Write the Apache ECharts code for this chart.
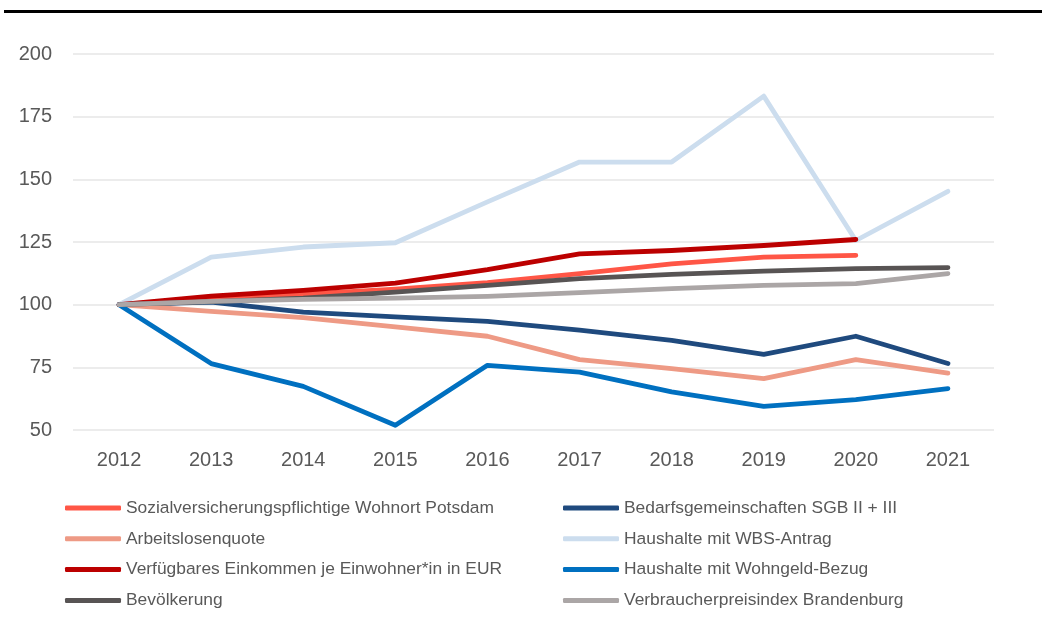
<!DOCTYPE html>
<html>
<head>
<meta charset="utf-8">
<script src="https://cdn.jsdelivr.net/npm/echarts@6/dist/echarts.min.js"></script>
<style>
  html, body { margin: 0; padding: 0; background: #fff; }
  #main { width: 1042px; height: 626px; }
</style>
</head>
<body>
<div id="main"></div>
<script>
var years = ['2012', '2013', '2014', '2015', '2016', '2017', '2018', '2019', '2020', '2021'];

var sozial      = [100, 102.2, 104.2, 106.2, 108.8, 112.4, 116.3, 119.0, 119.7, null];
var bedarf      = [100, 101.0, 97.0, 95.1, 93.3, 89.8, 85.8, 80.2, 87.4, 76.5];
var arbeitslos  = [100, 97.3, 94.8, 91.1, 87.4, 78.1, 74.5, 70.5, 78.1, 72.7];
var wbs         = [100, 119.0, 123.0, 124.7, 141.0, 156.9, 156.9, 183.2, 125.6, 145.2];
var einkommen   = [100, 103.4, 105.7, 108.6, 114.0, 120.3, 121.6, 123.6, 126.0, null];
var wohngeld    = [100, 76.5, 67.4, 51.9, 75.8, 73.1, 65.2, 59.4, 62.1, 66.5];
var bevoelkerung = [100, 101.2, 102.6, 105.0, 107.7, 110.4, 112.1, 113.4, 114.4, 114.8];
var vpi         = [100, 101.3, 102.1, 102.6, 103.3, 104.8, 106.4, 107.7, 108.4, 112.4];

var names = [
    'Sozialversicherungspflichtige Wohnort Potsdam',
    'Bedarfsgemeinschaften SGB II + III',
    'Arbeitslosenquote',
    'Haushalte mit WBS-Antrag',
    'Verfügbares Einkommen je Einwohner*in in EUR',
    'Haushalte mit Wohngeld-Bezug',
    'Bevölkerung',
    'Verbraucherpreisindex Brandenburg'
];
var values = [sozial, bedarf, arbeitslos, wbs, einkommen, wohngeld, bevoelkerung, vpi];
var colors = ['#FF5646', '#1F4A7E', '#EE9A85', '#CCDDEE', '#BC0000', '#0070C0', '#585454', '#ABA6A6'];

var chart = echarts.init(document.getElementById('main'));

var textColor = '#595959';
var fontFam = '"Liberation Sans", Arial, sans-serif';

function legendFor(list, left) {
    return {
        orient: 'vertical',
        left: left,
        top: 499.5,
        padding: 0,
        itemGap: 13.8,
        itemWidth: 56,
        itemHeight: 5,
        icon: 'roundRect',
        data: list,
        textStyle: { color: textColor, fontSize: 17.4, fontFamily: fontFam }
    };
}

var option = {
    animation: false,
    color: colors,
    graphic: [{
        type: 'rect',
        shape: { x: 4, y: 10, width: 1040, height: 3 },
        style: { fill: '#000' }
    }],
    legend: [
        legendFor([names[0], names[2], names[4], names[6]], 65),
        legendFor([names[1], names[3], names[5], names[7]], 563)
    ],
    grid: {
        left: 73,
        right: 48,
        top: 54,
        bottom: 196
    },
    xAxis: {
        type: 'category',
        data: years,
        boundaryGap: true,
        axisLine: { show: false },
        axisTick: { show: false },
        axisLabel: { color: textColor, fontSize: 20, fontFamily: fontFam, margin: 20 }
    },
    yAxis: {
        type: 'value',
        min: 50,
        max: 200,
        interval: 25,
        axisLine: { show: false },
        axisTick: { show: false },
        axisLabel: { color: textColor, fontSize: 20, fontFamily: fontFam, margin: 21 },
        splitLine: { lineStyle: { color: '#E6E6E6', width: 1.5 } }
    },
    series: names.map(function (n, i) {
        return {
            name: n,
            type: 'line',
            data: values[i],
            symbol: 'none',
            lineStyle: { width: 4.8, cap: 'round', join: 'round', color: colors[i] }
        };
    })
};

chart.setOption(option);
</script>
</body>
</html>
